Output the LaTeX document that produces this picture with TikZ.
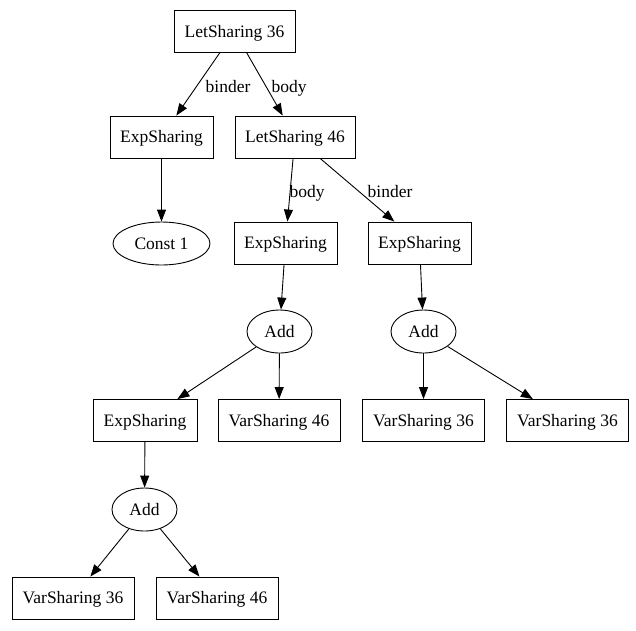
\documentclass[tikz,border=0pt]{standalone}
\usepackage{fontspec}
\setmainfont{Liberation Serif}
\usetikzlibrary{arrows.meta,shapes.geometric}
\begin{document}
\begin{tikzpicture}[x=1pt,y=1pt,
  every node/.style={font=\fontsize{17.5}{19}\selectfont,text height=11.6pt,text depth=0pt},
  bx/.style={draw,line width=0.9pt,rectangle,inner sep=0pt,minimum height=42pt},
  el/.style={draw,line width=0.9pt,ellipse,inner sep=0pt,minimum height=43pt},
  lbl/.style={inner sep=0pt},
  edge/.style={draw,line width=0.9pt,-{Triangle[length=12pt,width=9pt]}}]
\useasboundingbox (0,0) rectangle (636,-630);
\node[bx,minimum width=121pt] (ls36) at (234.5,-31.5) {LetSharing 36};
\node[bx,minimum width=103pt] (e1) at (161.5,-137) {ExpSharing};
\node[bx,minimum width=120pt] (ls46) at (295,-137) {LetSharing 46};
\node[el,minimum width=97pt] (c1) at (161.5,-243.5) {Const 1};
\node[bx,minimum width=103pt] (e2) at (285.5,-243) {ExpSharing};
\node[bx,minimum width=103pt] (e3) at (419.5,-243) {ExpSharing};
\node[el,minimum width=65pt] (a1) at (279.5,-331.5) {Add};
\node[el,minimum width=65pt] (a2) at (423.5,-331.5) {Add};
\node[bx,minimum width=104pt] (e4) at (145,-420.5) {ExpSharing};
\node[bx,minimum width=122pt] (v1) at (279,-420.5) {VarSharing 46};
\node[bx,minimum width=122pt] (v2) at (423.5,-420.5) {VarSharing 36};
\node[bx,minimum width=122pt] (v3) at (567.5,-420.5) {VarSharing 36};
\node[el,minimum width=65pt] (a3) at (144.5,-509.5) {Add};
\node[bx,minimum width=122pt] (v4) at (73,-598) {VarSharing 36};
\node[bx,minimum width=122pt] (v5) at (217,-598) {VarSharing 46};
\draw[edge] (ls36) -- (e1);
\draw[edge] (ls36) -- (ls46);
\node[lbl] (lb1) at (228,-87) {binder};
\node[lbl] (lb2) at (289,-87) {body};
\draw[edge] (e1) -- (c1);
\draw[edge] (ls46) -- (e2);
\draw[edge] (ls46) -- (e3);
\node[lbl] (lb3) at (307,-192) {body};
\node[lbl] (lb4) at (390,-192) {binder};
\draw[edge] (e2) -- (a1);
\draw[edge] (e3) -- (a2);
\draw[edge] (a1) -- (e4);
\draw[edge] (a1) -- (v1);
\draw[edge] (a2) -- (v2);
\draw[edge] (a2) -- (v3);
\draw[edge] (e4) -- (a3);
\draw[edge] (a3) -- (v4);
\draw[edge] (a3) -- (v5);
\end{tikzpicture}
\end{document}
